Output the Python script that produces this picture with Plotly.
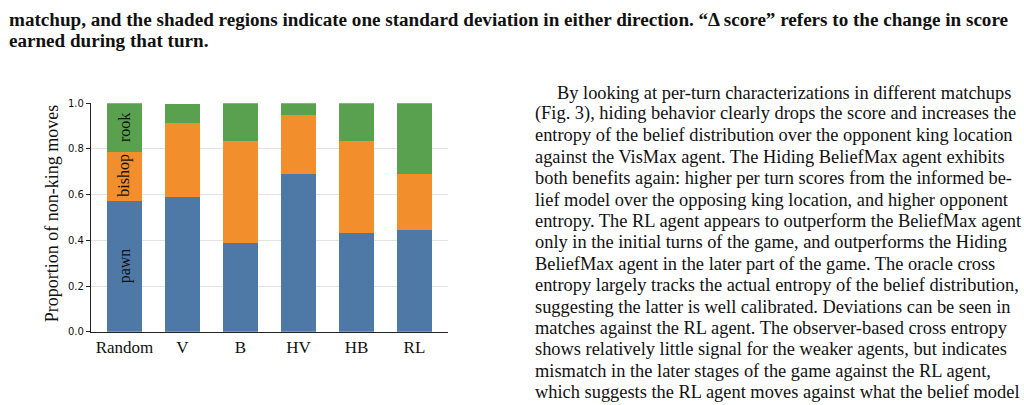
import plotly.graph_objects as go

# ---- data ----
agents = ["Random", "V", "B", "HV", "HB", "RL"]
pawn = [0.574, 0.589, 0.387, 0.689, 0.434, 0.447]
bishop = [0.213, 0.326, 0.447, 0.260, 0.400, 0.242]
rook = [0.213, 0.080, 0.166, 0.051, 0.166, 0.311]
piece_labels = ["pawn", "bishop", "rook"]
piece_label_y = [0.289, 0.685, 0.894]
y_ticks = [0.0, 0.2, 0.4, 0.6, 0.8, 1.0]

caption_lines = [
    "matchup, and the shaded regions indicate one standard deviation in either direction. \u201c\u0394 score\u201d refers to the change in score",
    "earned during that turn.",
]
body_lines = [
    "By looking at per-turn characterizations in different matchups",
    "(Fig. 3), hiding behavior clearly drops the score and increases the",
    "entropy of the belief distribution over the opponent king location",
    "against the VisMax agent. The Hiding BeliefMax agent exhibits",
    "both benefits again: higher per turn scores from the informed be-",
    "lief model over the opposing king location, and higher opponent",
    "entropy. The RL agent appears to outperform the BeliefMax agent",
    "only in the initial turns of the game, and outperforms the Hiding",
    "BeliefMax agent in the later part of the game. The oracle cross",
    "entropy largely tracks the actual entropy of the belief distribution,",
    "suggesting the latter is well calibrated. Deviations can be seen in",
    "matches against the RL agent. The observer-based cross entropy",
    "shows relatively little signal for the weaker agents, but indicates",
    "mismatch in the later stages of the game against the RL agent,",
    "which suggests the RL agent moves against what the belief model",
]

W, H = 1024, 405
SERIF = "Liberation Serif, Times New Roman, serif"
SANS = "DejaVu Sans, sans-serif"
colors = ["#4e79a7", "#f28e2b", "#59a14f"]


def px(x):
    return x / W


def py(y):
    return 1 - y / H


fig = go.Figure()
for name, vals, c in zip(piece_labels, [pawn, bishop, rook], colors):
    fig.add_trace(go.Bar(x=agents, y=vals, name=name, marker=dict(color=c, line=dict(width=0)),
                         width=0.6, showlegend=False, hoverinfo="skip"))

annotations = []
for lab, yy in zip(piece_labels, piece_label_y):
    annotations.append(dict(x=0, y=yy, xref="x", yref="y", text=lab, showarrow=False,
                            textangle=-90, font=dict(family=SERIF, size=16, color="#111111"),
                            xanchor="center", yanchor="middle"))

# y-axis title
annotations.append(dict(x=px(52), y=py(214), xref="paper", yref="paper",
                        text="Proportion of non-king moves", showarrow=False, textangle=-90,
                        font=dict(family=SERIF, size=18, color="#111111"),
                        xanchor="center", yanchor="middle"))

# caption
for i, line in enumerate(caption_lines):
    annotations.append(dict(x=px(7), y=py(15 + 22 * i), xref="paper", yref="paper", text="<b>" + line + "</b>",
                            showarrow=False, font=dict(family=SERIF, size=19.1, color="#111111"),
                            xanchor="left", yanchor="middle"))

# body text
for i, line in enumerate(body_lines):
    x0 = 555 if i == 0 else 533
    annotations.append(dict(x=px(x0), y=py(90 + 22.0 * i), xref="paper", yref="paper", text=line,
                            showarrow=False, font=dict(family=SERIF, size=18.4, color="#111111"),
                            xanchor="left", yanchor="middle"))

fig.update_layout(
    width=W, height=H,
    margin=dict(l=0, r=0, t=0, b=0),
    paper_bgcolor="white", plot_bgcolor="white",
    barmode="stack",
    bargap=0.4,
    annotations=annotations,
    xaxis=dict(domain=[px(91), px(448)], range=[-0.578, 5.578], showline=True, linecolor="#222222",
               linewidth=1.3, ticks="", tickfont=dict(family=SERIF, size=17, color="#111111"),
               showgrid=False, zeroline=False, fixedrange=True),
    yaxis=dict(domain=[1 - 336 / H, 1 - 101 / H], range=[0, 1.0], tickvals=y_ticks,
               ticktext=[f"{v:.1f}" for v in y_ticks], showline=True, linecolor="#222222", linewidth=1.3,
               ticks="outside", ticklen=4, tickcolor="#222222", tickwidth=1,
               tickfont=dict(family=SANS, size=10, color="#111111"),
               showgrid=True, gridcolor="#e3e3e3", gridwidth=1, zeroline=False, fixedrange=True),
)

fig.write_html("out.html")
